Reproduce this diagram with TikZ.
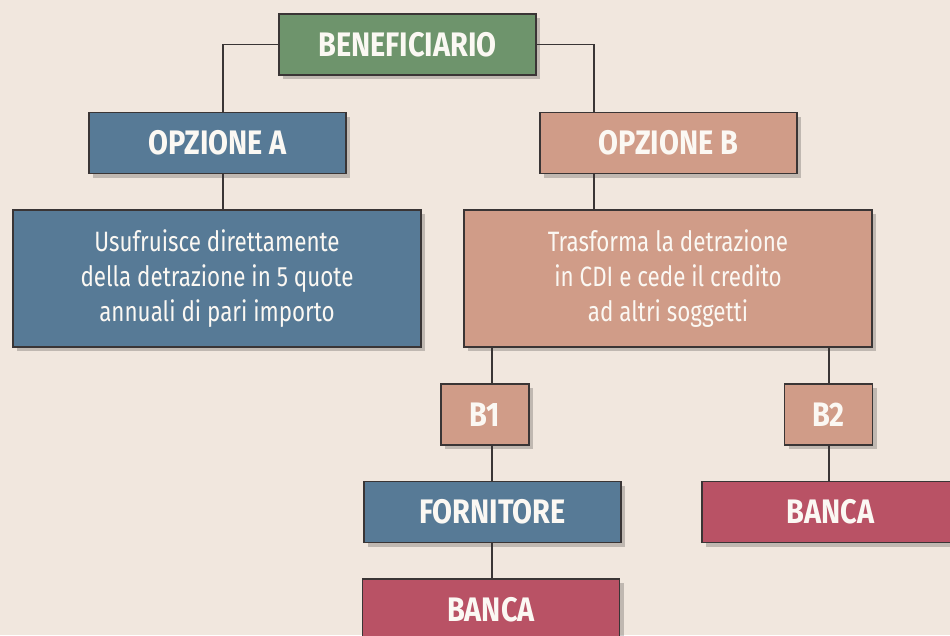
\documentclass[tikz,border=0pt]{standalone}
\usepackage{fontspec}
\setmainfont[FakeStretch=0.8]{Fira Sans}
\newfontfamily\hdfont[FakeStretch=0.85]{Fira Sans}
\usetikzlibrary{shadows}
\definecolor{bg}{HTML}{F1E7DE}
\definecolor{cgreen}{HTML}{6E946C}
\definecolor{cblue}{HTML}{577A96}
\definecolor{csalmon}{HTML}{D09C88}
\definecolor{cred}{HTML}{B95265}
\definecolor{edge}{HTML}{3A3535}
\definecolor{txt}{HTML}{FBF8F3}
\tikzset{
  box/.style={draw=edge, line width=1.4pt, inner sep=0pt, text=txt, align=center,
    drop shadow={shadow xshift=4pt, shadow yshift=-4pt, fill=black, opacity=0.2}},
  hd/.style={box, minimum width=257pt, minimum height=61pt, font=\hdfont\fontsize{34}{40}\selectfont\bfseries},
  sq/.style={box, minimum width=88pt, minimum height=61pt, font=\hdfont\fontsize{34}{40}\selectfont\bfseries},
  body/.style={box, minimum width=408pt, minimum height=137pt, font=\fontsize{28}{35}\selectfont},
  conn/.style={draw=edge, line width=1.2pt}
}
\begin{document}
\begin{tikzpicture}[x=1pt,y=-1pt]
\fill[bg] (0,0) rectangle (950,635);
\useasboundingbox (0,0) rectangle (950,635);
\node[hd, fill=cgreen] (ben) at (407.5,44.5) {BENEFICIARIO};
\node[hd, fill=cblue] (opa) at (217.5,143) {OPZIONE A};
\node[hd, fill=csalmon] (opb) at (668.5,143) {OPZIONE B};
\node[body, fill=cblue] (ta) at (217,278.5) {Usufruisce direttamente\\della detrazione in 5 quote\\annuali di pari importo};
\node[body, fill=csalmon] (tb) at (668,278.5) {Trasforma la detrazione\\in CDI e cede il credito\\ad altri soggetti};
\node[sq, fill=csalmon] (b1) at (485,414.5) {B1};
\node[sq, fill=csalmon] (b2) at (828.5,414.5) {B2};
\node[hd, fill=cblue] (forn) at (492.5,512) {FORNITORE};
\node[hd, fill=cred] (banr) at (830.5,512) {BANCA};
\node[hd, fill=cred] (banb) at (491,609.5) {BANCA};
\coordinate (xa) at (223,0);
\coordinate (xb) at (594,0);
\coordinate (x1) at (492,0);
\coordinate (x2) at (829,0);
\draw[conn] (ben.west) -| (opa.north -| xa);
\draw[conn] (ben.east) -| (opb.north -| xb);
\draw[conn] (opa.south -| xa) -- (ta.north -| xa);
\draw[conn] (opb.south -| xb) -- (tb.north -| xb);
\draw[conn] (tb.south -| x1) -- (b1.north -| x1);
\draw[conn] (tb.south -| x2) -- (b2.north -| x2);
\draw[conn] (b1.south -| x1) -- (forn.north -| x1);
\draw[conn] (b2.south -| x2) -- (banr.north -| x2);
\draw[conn] (forn.south -| x1) -- (banb.north -| x1);
\end{tikzpicture}
\end{document}
